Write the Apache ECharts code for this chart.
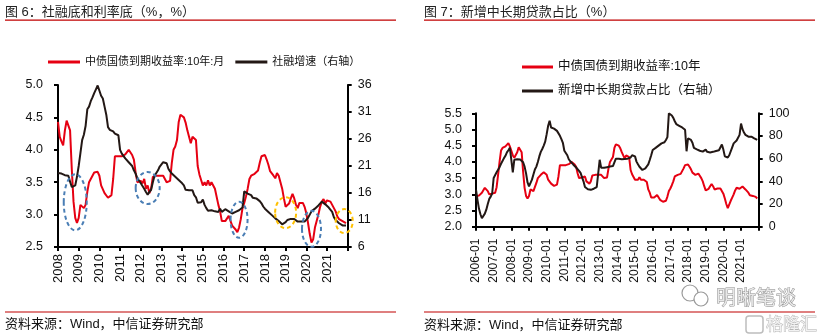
<!DOCTYPE html>
<html><head><meta charset="utf-8">
<script src="https://cdn.jsdelivr.net/npm/echarts@6/dist/echarts.min.js"></script>
<style>html,body{margin:0;padding:0;background:#fff}#c{width:822px;height:335px}</style>
</head><body><div id="c"></div>
<script>
// ---------- categories ----------
function months(y0, m0, y1, m1) {
  const out = []; let y = y0, m = m0;
  while (y < y1 || (y === y1 && m <= m1)) {
    out.push(y + '-' + String(m).padStart(2, '0'));
    m++; if (m > 12) { m = 1; y++; }
  }
  return out;
}
const leftCats = months(2008, 1, 2022, 1);   // 2008-01 .. 2022-01
const rightCats = months(2006, 1, 2022, 1);  // 2006-01 .. 2022-01

// ---------- tick labels ----------
const leftYTicks = [2.5, 3.0, 3.5, 4.0, 4.5, 5.0];
const leftY2Ticks = [6, 11, 16, 21, 26, 31, 36];
const rightYTicks = [2.0, 2.5, 3.0, 3.5, 4.0, 4.5, 5.0, 5.5];
const rightY2Ticks = [0, 20, 40, 60, 80, 100];

// ---------- series values ----------
// 中债国债到期收益率:10年 (monthly, 2008-01 .. 2021-12)
const yield10y = [
  4.43,4.2,4.13,4.07,4.3,4.45,4.47,4.3,3.7,3.2,2.95,2.87,
  2.95,3.15,3.18,3.1,3.15,3.35,3.5,3.48,3.6,3.65,3.68,3.66,
  3.6,3.45,3.42,3.33,3.34,3.26,3.25,3.3,3.55,3.9,3.88,3.9,
  3.93,3.9,3.87,3.93,3.96,4.0,4.02,3.92,3.85,3.65,3.5,3.53,
  3.52,3.48,3.55,3.4,3.45,3.33,3.4,3.58,3.57,3.6,3.6,3.6,
  3.6,3.6,3.6,3.5,3.47,3.52,3.8,4.0,4.05,4.15,4.43,4.54,
  4.55,4.5,4.42,4.3,4.2,4.1,4.2,4.22,4.15,3.75,3.62,3.62,
  3.45,3.5,3.45,3.53,3.45,3.5,3.45,3.4,3.38,3.15,3.05,2.9,
  2.88,2.9,2.9,2.98,2.95,2.83,2.8,2.77,2.73,2.8,2.93,3.1,
  3.18,3.28,3.4,3.55,3.6,3.6,3.63,3.63,3.68,3.8,3.9,3.93,
  3.92,3.85,3.77,3.67,3.67,3.6,3.56,3.64,3.6,3.5,3.4,3.25,
  3.12,3.12,3.17,3.25,3.32,3.25,3.15,3.1,3.18,3.2,3.18,3.12,
  3.02,2.87,2.7,2.57,2.62,2.8,2.9,3.0,3.12,3.2,3.24,3.17,
  3.22,3.24,3.2,3.15,3.1,3.05,2.97,2.93,2.95,2.9,2.92,2.87
];
// 10Y yield 2006-01 .. 2007-12 (right chart only)
const yield10y0607 = [
  2.94,2.94,2.96,2.99,3.05,3.1,3.2,3.22,3.1,3.0,3.02,3.02,
  3.0,3.05,3.22,3.6,4.0,4.35,4.43,4.42,4.48,4.52,4.58,4.48
];
// 社融增速 (%, 2008-01 .. 2021-12)
const tsfGrowth = [
  19.7,19.6,19.6,19.5,19.3,19.1,19.2,18.1,17.1,17.0,17.4,19.0,
  21.0,23.4,25.8,26.8,28.4,31.5,32.0,33.0,33.7,34.5,35.2,35.9,
  36.0,34.0,33.5,32.0,30.5,28.2,27.7,27.7,27.4,27.0,27.0,26.7,
  24.0,23.3,23.0,22.4,22.1,21.7,21.4,21.0,20.2,19.6,18.7,18.3,
  17.8,17.5,16.8,16.2,15.7,16.2,16.6,18.0,19.2,19.5,20.2,20.9,
  21.2,21.7,21.8,21.5,20.5,20.0,19.6,19.3,19.0,18.7,18.4,18.1,
  17.8,17.4,16.6,16.3,16.5,16.2,16.5,15.6,15.2,14.2,14.1,14.3,
  14.8,13.8,13.2,12.7,12.5,12.8,12.8,12.6,12.8,12.5,13.1,12.5,
  12.8,13.0,13.2,12.6,12.4,12.2,12.2,12.5,12.6,12.8,13.1,13.3,
  16.3,16.2,15.9,15.7,15.6,15.1,15.3,15.0,14.8,14.5,14.1,13.5,
  13.1,12.8,12.5,12.2,11.9,11.6,11.3,11.1,10.8,10.6,10.2,10.3,
  10.6,11.0,11.0,11.2,11.0,11.2,10.9,10.7,10.7,10.7,10.7,10.7,
  10.7,11.4,12.0,12.6,12.8,13.1,13.4,13.7,14.0,14.4,14.2,13.9,
  13.6,13.3,13.0,12.5,11.5,11.0,10.8,10.4,10.1,10.0,10.1,10.0
];
// 新增中长期贷款占比 (%, 2006-01 .. 2021-12)
const loanShare = [
  32.6,23.7,16,11,7.5,8.9,11.5,15,20,24.5,26.5,29.5,
  43,44.5,48,49,52.5,55.5,58,60.5,62.5,65.5,67.4,69.7,
  68.5,48,59,59.5,59.5,59.5,59.3,57.9,56.8,53,47,39,
  35.6,36,41.5,46,50.4,53,57,62,66,68.5,71.5,75,
  81.6,89,93.5,87.5,87,86.5,85.5,84.5,82.8,80.1,77.2,74,
  67,65.5,63,59.5,57.7,56.5,54.9,53.5,52.2,50.7,49.3,47.5,
  46,40,35,33.5,33,32.5,32.5,33,33.5,34.5,35,35.3,
  59,52,51.5,52,52.5,52.5,52.5,53,53,53.5,55,60,
  61.5,60,59,59.5,60.3,59.8,59.5,60,60.3,61,63,64.5,
  62,57.4,55,52.9,51.5,50,50.5,51.5,52,55,58.8,63,
  67.6,68.5,69.5,70.6,71.5,72,73.5,74,74.5,76.5,79,100,
  99,98,96,93,90.5,89.7,89,88.2,87.5,86.8,85.5,66.5,
  78,79,76.5,74,69.5,69,68.2,68,67,67,66.2,66.2,
  68,66,67,65.5,66,66,66.5,66.8,67,67.4,67.5,72.5,
  68,62,60.5,61,63,64.7,70,73.5,75,76,76.5,81,
  91,86,83,81,79.5,79.4,79.4,79.4,78.8,77.9,77.2,76.5
];
const yieldRight = yield10y0607.concat(yield10y);

// annotation ellipses on the left chart (data coordinates: month, yield)
const annotations = [
  { month: '2008-11', value: 3.19, kind: 'blue' },
  { month: '2012-05', value: 3.41, kind: 'blue' },
  { month: '2016-10', value: 2.92, kind: 'blue' },
  { month: '2019-01', value: 3.03, kind: 'yellow' },
  { month: '2020-04', value: 2.78, kind: 'blue' },
  { month: '2021-11', value: 2.90, kind: 'yellow' }
];
const annotationRadii = [[11.5, 28], [12, 16], [8.5, 18], [10.5, 15.5], [9.5, 18], [8.5, 12]];

// ---------- styles ----------
const FONT = "'Liberation Sans','Noto Sans CJK SC',sans-serif";
const RED = '#E60012', BLACK = '#231815', TXT = '#111';
const axisLineStyle = { show: true, lineStyle: { color: '#000', width: 2 } };
const tickStyle = { color: '#000', width: 2 };

const chart = echarts.init(document.getElementById('c'), null, { renderer: 'canvas' });

function yAxisCfg(grid, ticks, min, max, pos, margin, fmt) {
  return {
    type: 'value', gridIndex: grid, min: min, max: max, position: pos,
    axisLine: axisLineStyle,
    axisTick: { show: true, length: 4, lineStyle: tickStyle, customValues: ticks },
    axisLabel: { customValues: ticks, formatter: fmt, color: TXT, fontSize: 12.5, fontFamily: FONT, margin: margin },
    splitLine: { show: false }
  };
}

chart.setOption({
  animation: false,
  backgroundColor: '#fff',
  grid: [
    { left: 58, top: 85, width: 289.7, height: 162 },
    { left: 476, top: 113.3, width: 282.7, height: 113.4 }
  ],
  legend: [
    {
      data: ['中债国债到期收益率:10年:月', '社融增速（右轴）'],
      left: 43, top: 50, icon: 'rect', itemWidth: 32, itemHeight: 3, itemGap: 11,
      textStyle: { fontSize: 11, fontFamily: FONT, color: TXT, lineHeight: 14 }
    },
    {
      data: ['中债国债到期收益率:10年', '新增中长期贷款占比（右轴）'],
      orient: 'vertical', left: 517, top: 55, icon: 'rect', itemWidth: 31, itemHeight: 3, itemGap: 10,
      textStyle: { fontSize: 12.5, fontFamily: FONT, color: TXT, lineHeight: 14 }
    }
  ],
  xAxis: [
    {
      type: 'category', gridIndex: 0, data: leftCats, boundaryGap: false,
      axisLine: axisLineStyle,
      axisTick: { interval: (i) => i % 12 === 0, length: 4, lineStyle: tickStyle },
      axisLabel: { interval: (i) => i % 12 === 0 && i < 168, rotate: 90, formatter: (v) => v.slice(0, 4),
        fontSize: 13, fontFamily: FONT, color: TXT, margin: 7 },
      splitLine: { show: false }
    },
    {
      type: 'category', gridIndex: 1, data: rightCats, boundaryGap: false,
      axisLine: axisLineStyle,
      axisTick: { interval: (i) => i % 12 === 0, length: 4, lineStyle: tickStyle },
      axisLabel: { interval: (i) => i % 12 === 0 && i < 192, rotate: 90,
        fontSize: 12, fontFamily: FONT, color: TXT, margin: 12 },
      splitLine: { show: false }
    }
  ],
  yAxis: [
    yAxisCfg(0, leftYTicks, 2.5, 5.0, 'left', 15, (v) => v.toFixed(1)),
    yAxisCfg(0, leftY2Ticks, 6, 36, 'right', 10, (v) => String(v)),
    yAxisCfg(1, rightYTicks, 2.0, 5.5, 'left', 14, (v) => v.toFixed(1)),
    yAxisCfg(1, rightY2Ticks, 0, 100, 'right', 10, (v) => String(v))
  ],
  series: [
    { name: '中债国债到期收益率:10年:月', type: 'line', xAxisIndex: 0, yAxisIndex: 0, data: yield10y,
      showSymbol: false, symbol: 'none', lineStyle: { color: RED, width: 2 }, itemStyle: { color: RED }, z: 2 },
    { name: '社融增速（右轴）', type: 'line', xAxisIndex: 0, yAxisIndex: 1, data: tsfGrowth,
      showSymbol: false, symbol: 'none', lineStyle: { color: BLACK, width: 2 }, itemStyle: { color: BLACK }, z: 3 },
    { name: '中债国债到期收益率:10年', type: 'line', xAxisIndex: 1, yAxisIndex: 2, data: yieldRight,
      showSymbol: false, symbol: 'none', lineStyle: { color: RED, width: 2 }, itemStyle: { color: RED }, z: 2 },
    { name: '新增中长期贷款占比（右轴）', type: 'line', xAxisIndex: 1, yAxisIndex: 3, data: loanShare,
      showSymbol: false, symbol: 'none', lineStyle: { color: BLACK, width: 2 }, itemStyle: { color: BLACK }, z: 3 }
  ]
});

// ---------- decorations ----------
const g = [];
function txt(x, y, s, size, color, extra) {
  g.push(Object.assign({ type: 'text', x: x, y: y, z: 50,
    style: Object.assign({ text: s, fontSize: size, fontFamily: FONT, fill: color, verticalAlign: 'middle', align: 'left' }, extra || {}) }));
}
function hline(x, y, w, color) {
  g.push({ type: 'rect', z: 50, shape: { x: x, y: y, width: w, height: 1.2 }, style: { fill: color } });
}
txt(5, 12.5, '图 6：社融底和利率底（%，%）', 13, '#222');
txt(424, 12.5, '图 7：新增中长期贷款占比（%）', 13, '#222');
hline(5, 19.6, 391, '#C00000');
hline(424, 19.6, 391, '#C00000');
hline(5, 311.4, 391, '#C00000');
hline(424, 311.4, 391, '#C00000');
txt(5, 324.5, '资料来源：Wind，中信证券研究部', 13, '#111');
txt(424, 325.5, '资料来源：Wind，中信证券研究部', 13, '#111');

// watermark
g.push({ type: 'circle', z: 40, shape: { cx: 690, cy: 293, r: 8 }, style: { fill: 'none', stroke: '#9a9a9a', lineWidth: 1.2 } });
g.push({ type: 'circle', z: 40, shape: { cx: 701, cy: 299, r: 7 }, style: { fill: '#fff', stroke: '#9a9a9a', lineWidth: 1.2 } });
txt(716, 299, '明晰笔谈', 20, '#e8e8e8', { stroke: '#8c8c8c', lineWidth: 0.9 });
g.push({ type: 'rect', z: 40, shape: { x: 746, y: 316, width: 17, height: 17, r: 3 }, style: { fill: 'none', stroke: '#bdbdbd', lineWidth: 1.5 } });
txt(766, 325, '格隆汇', 17, '#f2f2f2', { stroke: '#b5b5b5', lineWidth: 0.9 });

// annotation ellipses, placed through the chart's own axes
annotations.forEach((a, i) => {
  const p = chart.convertToPixel({ xAxisIndex: 0, yAxisIndex: 0 }, [a.month, a.value]);
  g.push({ type: 'ellipse', z: 60,
    shape: { cx: p[0], cy: p[1], rx: annotationRadii[i][0], ry: annotationRadii[i][1] },
    style: { fill: 'none', stroke: a.kind === 'blue' ? '#4A7EB5' : '#FFC000', lineWidth: 2, lineDash: [4, 3] } });
});

chart.setOption({ graphic: { elements: g } });
</script>
</body></html>
